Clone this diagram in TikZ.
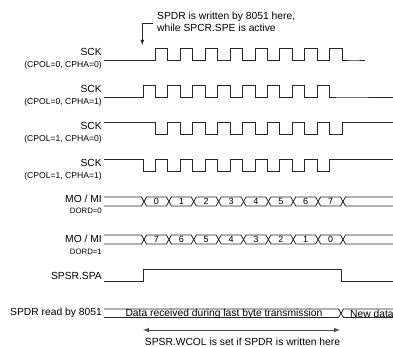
\documentclass[tikz,border=0pt]{standalone}
\usepackage{fontspec}
\setmainfont{Liberation Sans}
\usepackage{tikz}
\usetikzlibrary{arrows, positioning}

\begin{document}
\begin{tikzpicture}[x=1pt,y=-1pt]
    \tikzstyle{lbl}=[anchor=base east,inner sep=0pt,font=\fontsize{10.3}{12}\selectfont]
    \tikzstyle{sublbl}=[anchor=base east,inner sep=0pt,font=\fontsize{8.6}{10}\selectfont]
    \tikzstyle{dordlbl}=[anchor=base east,inner sep=0pt,font=\fontsize{7.8}{9}\selectfont]
    \tikzstyle{wave}=[draw,black!85,line width=0.8pt]
    \tikzstyle{bit}=[inner sep=0pt,font=\fontsize{9}{10}\selectfont]
    \tikzstyle{note}=[inner sep=0pt,font=\fontsize{10.3}{12.4}\selectfont]

    \useasboundingbox (0,0) rectangle (393,347);
    \clip (0,0) rectangle (393,347);

    % signal names
    \node[lbl] (sck1) at (102,56) {SCK};
    \node[sublbl] (cfg1) at (102,67.5) {(CPOL=0, CPHA=0)};
    \node[lbl] (sck2) at (102,93) {SCK};
    \node[sublbl] (cfg2) at (102,104.5) {(CPOL=0, CPHA=1)};
    \node[lbl] (sck3) at (102,130) {SCK};
    \node[sublbl] (cfg3) at (102,141.5) {(CPOL=1, CPHA=0)};
    \node[lbl] (sck4) at (102,167) {SCK};
    \node[sublbl] (cfg4) at (102,178.5) {(CPOL=1, CPHA=1)};
    \node[lbl] (momi1) at (102,203) {MO / MI};
    \node[dordlbl] (dord0) at (102,214) {DORD=0};
    \node[lbl] (momi2) at (102,243) {MO / MI};
    \node[dordlbl] (dord1) at (102,254) {DORD=1};
    \node[lbl] (spa) at (102,279) {SPSR.SPA};
    \node[lbl] (rd) at (102,315) {SPDR read by 8051};

    % clocks
    \path[wave] (104,60) -- (155.44,60)
        \foreach \k in {1,...,8} {-- ++(0,-11.5) -- ++(12.44,0) -- ++(0,11.5) -- ++(12.44,0)}
        -- (365,60);
    \path[wave] (104,97) -- (143,97)
        \foreach \k in {1,...,8} {-- ++(0,-11.5) -- ++(12.44,0) -- ++(0,11.5) -- ++(12.44,0)}
        -- (395,97);
    \path[wave] (104,122.5) -- (155.44,122.5)
        \foreach \k in {1,...,8} {-- ++(0,11.5) -- ++(12.44,0) -- ++(0,-11.5) -- ++(12.44,0)}
        -- (395,122.5);
    \path[wave] (104,159.5) -- (143,159.5)
        \foreach \k in {1,...,8} {-- ++(0,11.5) -- ++(12.44,0) -- ++(0,-11.5) -- ++(12.44,0)}
        -- (395,159.5);

    % data buses
    \path[wave] (104,197) -- (141.5,197) -- (144,201.5) -- (141.5,206) -- (104,206);
    \path[wave] (395,197) -- (345.5,197) -- (343,201.5) -- (345.5,206) -- (395,206);
    \path[wave] (104,235) -- (141.5,235) -- (144,239.5) -- (141.5,244) -- (104,244);
    \path[wave] (395,235) -- (345.5,235) -- (343,239.5) -- (345.5,244) -- (395,244);
    \foreach \i in {0,...,7} {
        \pgfmathsetmacro\xa{144+\i*24.875}
        \pgfmathsetmacro\xb{\xa+24.875}
        \pgfmathtruncatemacro\lsb{\i}
        \pgfmathtruncatemacro\msb{7-\i}
        \path[wave] (\xa,201.5) -- (\xa+2.5,197) -- (\xb-2.5,197) -- (\xb,201.5)
            -- (\xb-2.5,206) -- (\xa+2.5,206) -- cycle;
        \path[wave] (\xa,239.5) -- (\xa+2.5,235) -- (\xb-2.5,235) -- (\xb,239.5)
            -- (\xb-2.5,244) -- (\xa+2.5,244) -- cycle;
        \node[bit] (lsb\i) at (\xa+12.44,201.5) {\lsb};
        \node[bit] (msb\i) at (\xa+12.44,239.5) {\msb};
    }

    % status flag
    \path[wave] (104,281) -- (143,281) -- (143,269.5) -- (341,269.5) -- (341,281) -- (395,281);

    % SPDR contents
    \path[wave] (104,309) -- (338.5,309) -- (341,313.25) -- (338.5,317.5) -- (104,317.5);
    \path[wave] (395,309) -- (343.5,309) -- (341,313.25) -- (343.5,317.5) -- (395,317.5);
    \node[note] (old) at (224,313.5) {Data received during last byte transmission};
    \node[note,anchor=west] (new) at (350,313.5) {New data};

    % write point
    \node[note,anchor=north west,align=left] (wnote) at (157,11.8)
        {SPDR is written by 8051 here,\\while SPCR.SPE is active};
    \coordinate (wbend) at (153,23);
    \coordinate (wpoint) at (142.3,45);
    \draw[-latex,black!85,line width=0.8pt] (wbend) -| (wpoint);

    % collision window
    \coordinate (wcl) at (143,330);
    \coordinate (wcr) at (340,330);
    \draw[latex-latex,black!70,line width=1pt] (wcl) -- (wcr);
    \node[note,anchor=base] (wcol) at (242.5,345) {SPSR.WCOL is set if SPDR is written here};
\end{tikzpicture}
\end{document}
